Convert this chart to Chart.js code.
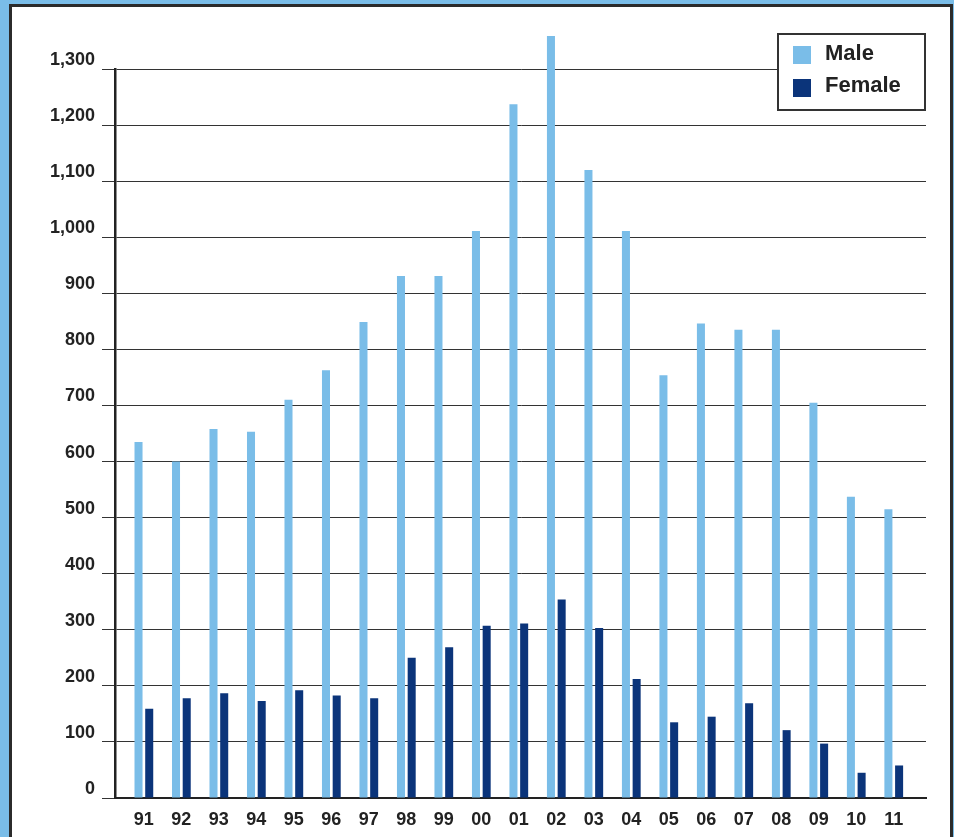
<!DOCTYPE html>
<html>
<head>
<meta charset="utf-8">
<script src="https://cdn.jsdelivr.net/npm/chart.js@4"></script>
<style>
  html, body { margin: 0; padding: 0; }
  body { width: 954px; height: 837px; background: #7abde8; position: relative; overflow: hidden; }
  .frame {
    position: absolute; left: 9px; top: 4px; width: 938px; height: 900px;
    border: 3px solid #2b2b2b; border-bottom: none; background: #fff;
  }
  #chart { position: absolute; left: 0; top: 0; }
</style>
</head>
<body>
<div class="frame"></div>
<canvas id="chart" width="954" height="837"></canvas>
<script>
// --- données ---
const A_years = ["91", "92", "93", "94", "95", "96", "97", "98", "99", "00", "01",
                 "02", "03", "04", "05", "06", "07", "08", "09", "10", "11"];
const A_male = [635, 600, 658, 653, 710, 763, 849, 931, 931, 1011, 1237,
                1359, 1120, 1011, 754, 846, 835, 835, 705, 537, 515];
const A_female = [159, 178, 187, 173, 192, 183, 178, 250, 269, 307, 311,
                  354, 303, 212, 135, 145, 169, 121, 97, 45, 58];
const A_yTicks = [0, 100, 200, 300, 400, 500, 600, 700, 800, 900, 1000, 1100, 1200, 1300];

const C_male = "#7abde8";
const C_female = "#0b347a";
const C_text = "#222";
const FONT = "'Liberation Sans', Arial, Helvetica, sans-serif";

// légende dessinée dans la zone du graphique, en haut à droite
const boxLegend = {
  id: "boxLegend",
  afterDraw(chart) {
    const ctx = chart.ctx;
    const area = chart.chartArea;
    const w = 147, h = 76;
    const x = area.right - w - 1, y = area.top - 35;
    ctx.save();
    ctx.fillStyle = "#fff";
    ctx.fillRect(x, y, w, h);
    ctx.strokeStyle = "#333";
    ctx.lineWidth = 2;
    ctx.strokeRect(x, y, w, h);
    ctx.font = "bold 22px " + FONT;
    ctx.textBaseline = "alphabetic";
    chart.data.datasets.forEach((ds, i) => {
      ctx.fillStyle = ds.backgroundColor;
      ctx.fillRect(x + 15, y + 12 + i * 33, 18, 18);
      ctx.fillStyle = C_text;
      ctx.fillText(ds.label, x + 47, y + 26 + i * 32);
    });
    ctx.restore();
  }
};

const toPoints = (arr) => arr.map((v, i) => ({ x: i, y: v }));

new Chart(document.getElementById("chart"), {
  type: "bar",
  data: {
    datasets: [
      { label: "Male", data: toPoints(A_male), backgroundColor: C_male, clip: false },
      { label: "Female", data: toPoints(A_female), backgroundColor: C_female, clip: false }
    ]
  },
  options: {
    responsive: false,
    animation: false,
    devicePixelRatio: 1,
    categoryPercentage: 0.571,
    barPercentage: 0.75,
    layout: { padding: { left: 0, top: 69, right: 28, bottom: 0 } },
    plugins: { legend: { display: false }, tooltip: { enabled: false } },
    scales: {
      x: {
        type: "linear",
        offset: false,
        min: -0.77,
        max: 20.86,
        afterBuildTicks: (scale) => { scale.ticks = A_years.map((_, i) => ({ value: i })); },
        afterFit: (scale) => { scale.height = 39; },
        grid: { drawOnChartArea: false, drawTicks: false },
        border: { display: true, color: C_text, width: 2 },
        ticks: {
          padding: 11,
          color: C_text,
          font: { family: FONT, size: 18, weight: "bold" },
          maxRotation: 0,
          autoSkip: false,
          callback: (v) => A_years[v]
        }
      },
      y: {
        min: 0,
        max: 1300,
        afterBuildTicks: (scale) => { scale.ticks = A_yTicks.map((v) => ({ value: v })); },
        afterFit: (scale) => { scale.width = 115; },
        grid: { color: "#333", lineWidth: 1, tickLength: 13, tickColor: "#333" },
        border: { display: true, color: C_text, width: 2.5 },
        ticks: {
          padding: 7,
          labelOffset: -9,
          color: C_text,
          font: { family: FONT, size: 18, weight: "bold" },
          callback: (v) => v.toLocaleString("en-US")
        }
      }
    }
  },
  plugins: [boxLegend]
});
</script>
</body>
</html>
